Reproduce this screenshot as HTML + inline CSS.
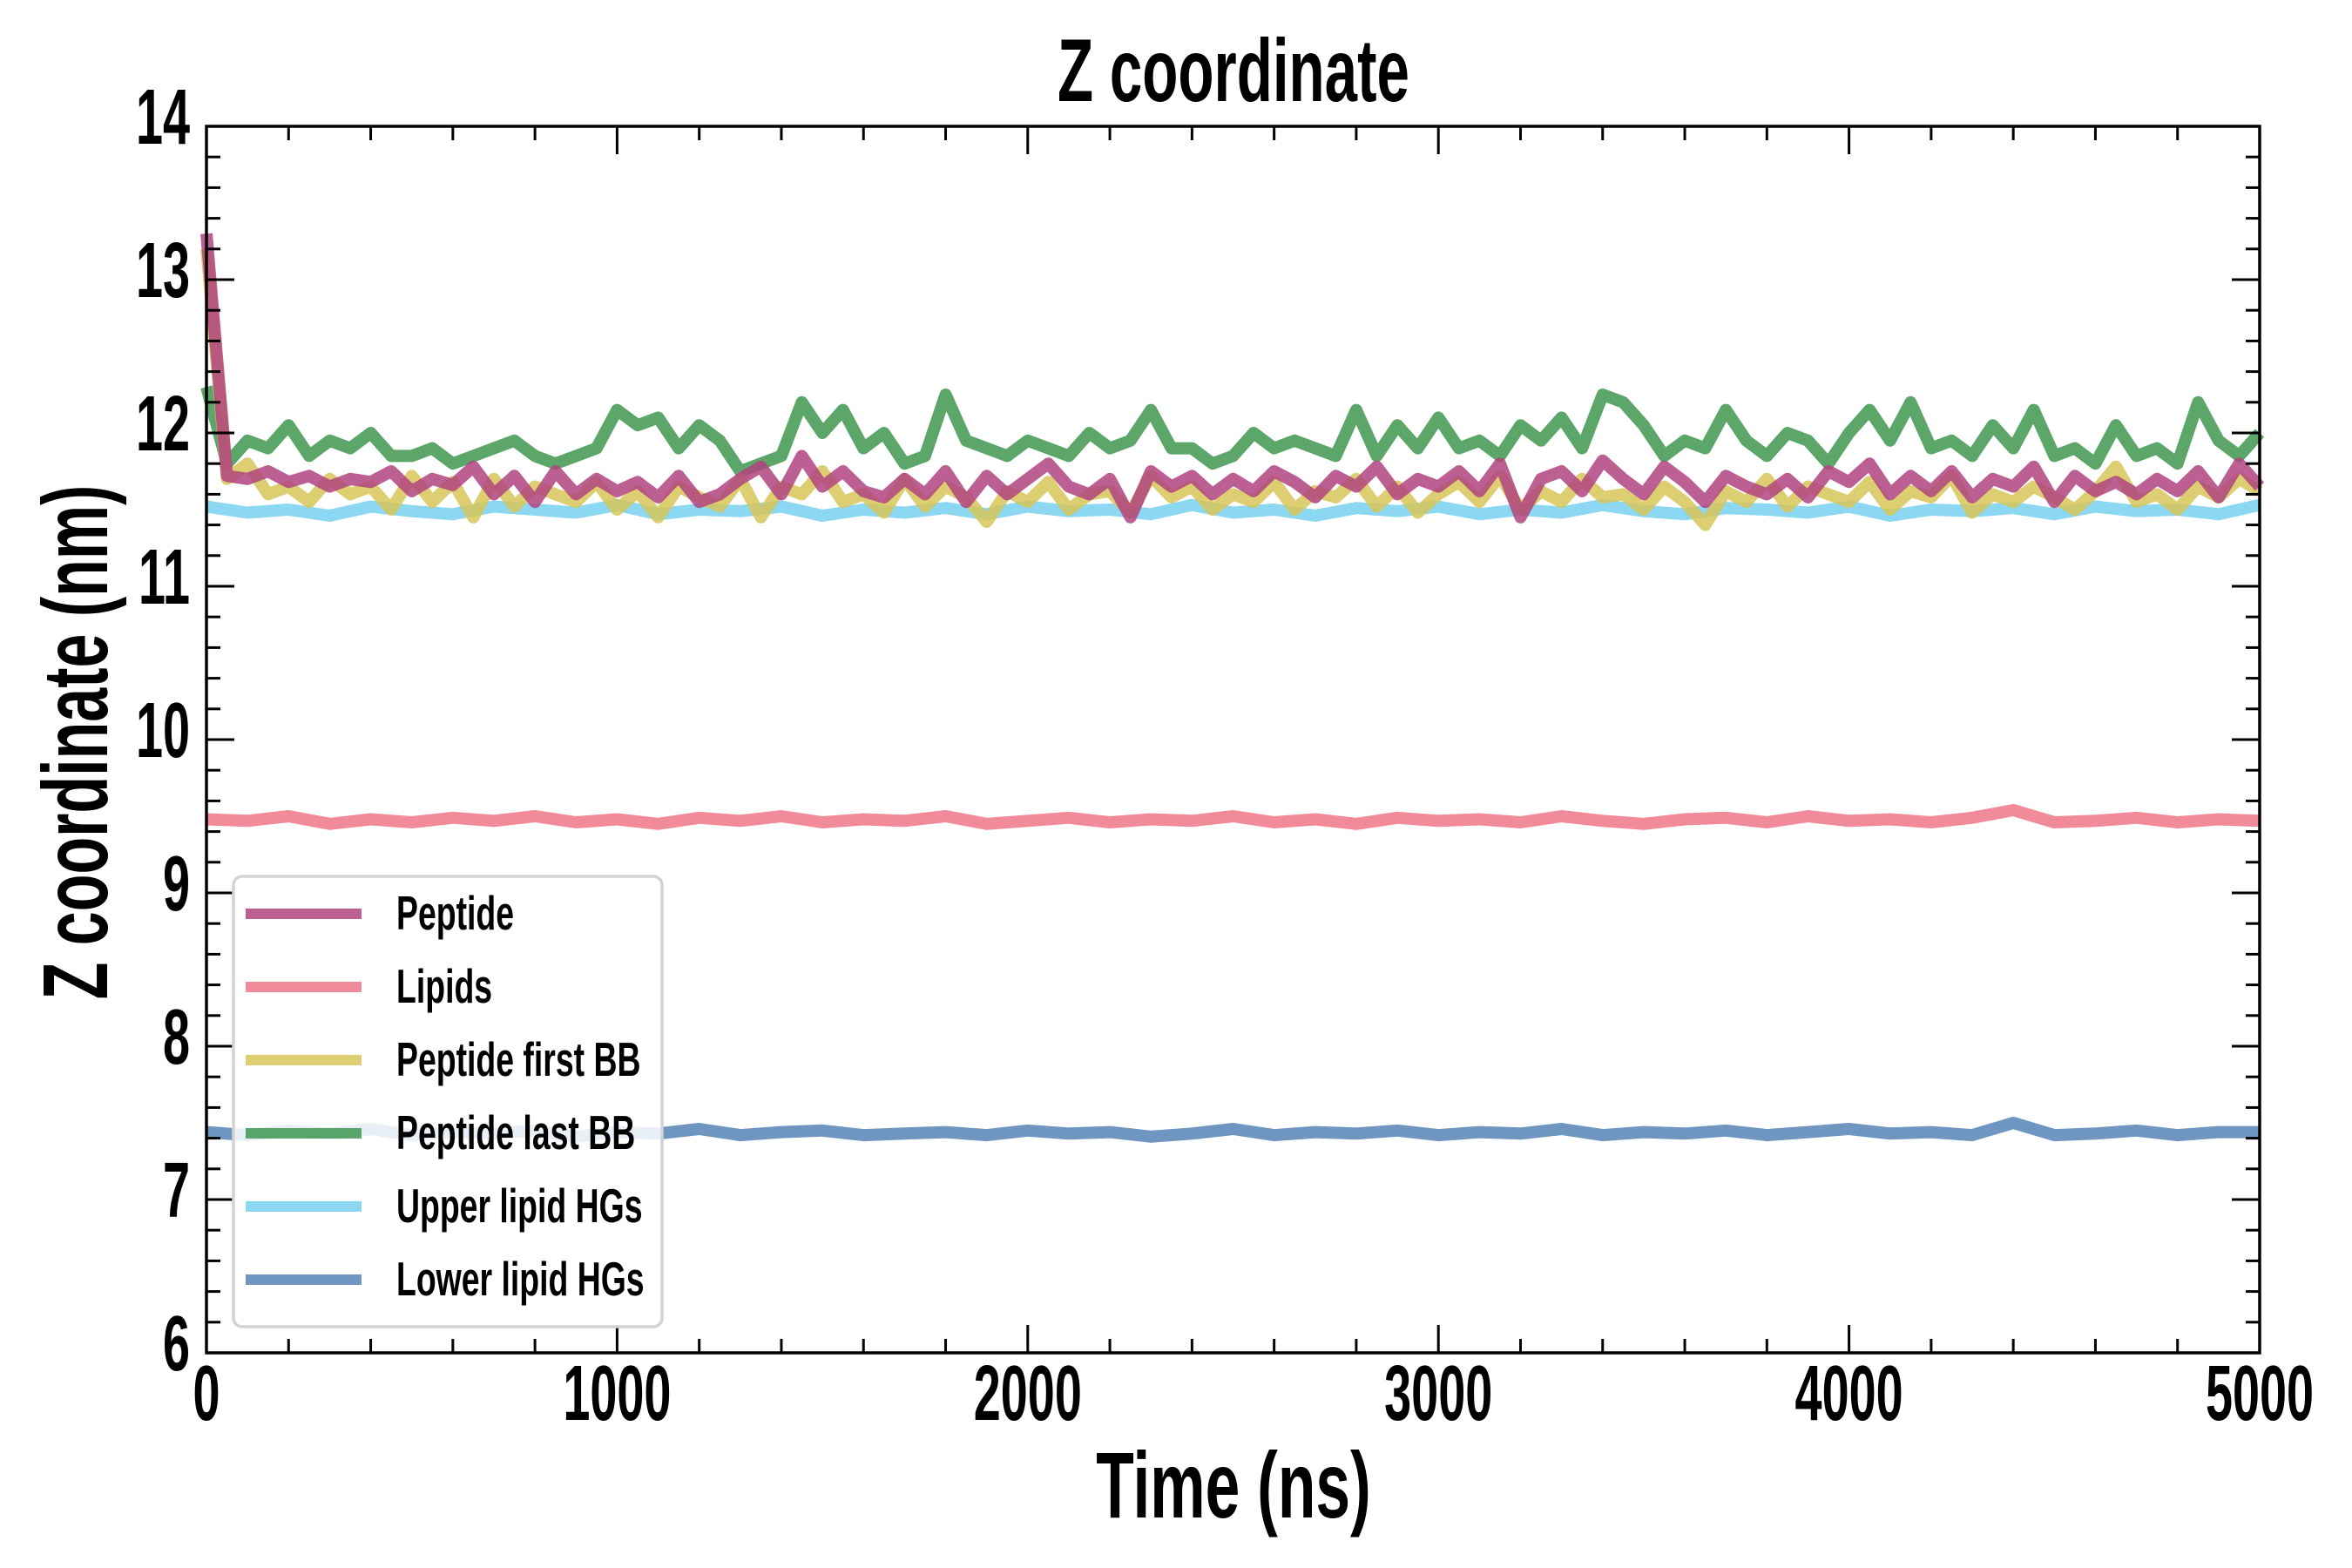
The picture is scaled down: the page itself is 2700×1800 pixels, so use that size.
<!DOCTYPE html>
<html><head><meta charset="utf-8"><style>html,body{margin:0;padding:0;background:#fff}svg{display:block}</style></head>
<body>
<svg id="chart" width="2700" height="1800" viewBox="0 0 2700 1800" xmlns="http://www.w3.org/2000/svg">
<rect width="2700" height="1800" fill="#fff"/>
<g id="series"></g>
<g id="axes"></g>
<g id="legend"></g>
</svg>
<script>
const xTicks = [0,1000,2000,3000,4000,5000];
const yTicks = [6,7,8,9,10,11,12,13,14];
const seriesNames = ["Peptide","Lipids","Peptide first BB","Peptide last BB","Upper lipid HGs","Lower lipid HGs"];
const tMax = 5000;
const peptideLast = [12.3,11.8,11.95,11.9,12.05,11.85,11.95,11.9,12.0,11.85,11.85,11.9,11.8,11.85,11.9,11.95,11.85,11.8,11.85,11.9,12.15,12.05,12.1,11.9,12.05,11.95,11.75,11.8,11.85,12.2,12.0,12.15,11.9,12.0,11.8,11.85,12.25,11.95,11.9,11.85,11.95,11.9,11.85,12.0,11.9,11.95,12.15,11.9,11.9,11.8,11.85,12.0,11.9,11.95,11.9,11.85,12.15,11.85,12.05,11.9,12.1,11.9,11.95,11.85,12.05,11.95,12.1,11.9,12.25,12.2,12.05,11.85,11.95,11.9,12.15,11.95,11.85,12.0,11.95,11.8,12.0,12.15,11.95,12.2,11.9,11.95,11.85,12.05,11.9,12.15,11.85,11.9,11.8,12.05,11.85,11.9,11.8,12.2,11.95,11.85,12.0];
const peptide = [13.3,11.72,11.7,11.75,11.68,11.72,11.65,11.7,11.68,11.75,11.62,11.7,11.66,11.78,11.6,11.72,11.55,11.75,11.6,11.7,11.62,11.68,11.58,11.72,11.55,11.6,11.7,11.78,11.6,11.85,11.65,11.75,11.62,11.58,11.7,11.6,11.75,11.55,11.72,11.6,11.7,11.8,11.65,11.6,11.7,11.45,11.75,11.65,11.72,11.6,11.7,11.62,11.75,11.68,11.58,11.72,11.65,11.78,11.6,11.7,11.65,11.75,11.62,11.8,11.45,11.7,11.75,11.62,11.82,11.7,11.6,11.78,11.68,11.55,11.72,11.65,11.6,11.7,11.58,11.75,11.68,11.8,11.6,11.72,11.62,11.75,11.58,11.7,11.65,11.78,11.55,11.72,11.62,11.68,11.6,11.7,11.62,11.75,11.58,11.8,11.65];
const peptideFirst = [13.2,11.7,11.8,11.6,11.65,11.55,11.7,11.6,11.65,11.5,11.72,11.55,11.68,11.45,11.7,11.52,11.65,11.6,11.55,11.68,11.5,11.62,11.45,11.65,11.58,11.52,11.7,11.45,11.65,11.6,11.75,11.55,11.6,11.48,11.7,11.52,11.65,11.58,11.42,11.62,11.55,11.68,11.5,11.6,11.62,11.48,11.72,11.58,11.65,11.5,11.6,11.55,11.68,11.5,11.62,11.58,11.7,11.52,11.65,11.48,11.6,11.68,11.55,11.72,11.5,11.62,11.55,11.7,11.58,11.6,11.5,11.65,11.55,11.4,11.62,11.55,11.7,11.52,11.65,11.6,11.55,11.68,11.5,11.62,11.58,11.72,11.48,11.6,11.55,11.65,11.58,11.5,11.62,11.78,11.55,11.6,11.5,11.65,11.58,11.7,11.62];
const upperHG = [11.52,11.48,11.5,11.46,11.52,11.49,11.47,11.52,11.5,11.48,11.53,11.47,11.5,11.49,11.52,11.46,11.5,11.48,11.51,11.47,11.52,11.49,11.5,11.47,11.53,11.48,11.5,11.46,11.51,11.49,11.52,11.47,11.5,11.48,11.53,11.49,11.47,11.51,11.5,11.48,11.52,11.46,11.5,11.49,11.51,11.47,11.52,11.49,11.5,11.47,11.53];
const lipids = [9.48,9.47,9.5,9.45,9.48,9.46,9.49,9.47,9.5,9.46,9.48,9.45,9.49,9.47,9.5,9.46,9.48,9.47,9.5,9.45,9.47,9.49,9.46,9.48,9.47,9.5,9.46,9.48,9.45,9.49,9.47,9.48,9.46,9.5,9.47,9.45,9.48,9.49,9.46,9.5,9.47,9.48,9.46,9.49,9.54,9.46,9.47,9.49,9.46,9.48,9.47];
const lowerHG = [7.44,7.42,7.45,7.43,7.46,7.42,7.44,7.43,7.45,7.41,7.44,7.43,7.46,7.42,7.44,7.45,7.42,7.43,7.44,7.42,7.45,7.43,7.44,7.41,7.43,7.46,7.42,7.44,7.43,7.45,7.42,7.44,7.43,7.46,7.42,7.44,7.43,7.45,7.42,7.44,7.46,7.43,7.44,7.42,7.5,7.42,7.43,7.45,7.42,7.44,7.44];

const NS='http://www.w3.org/2000/svg';
const X0=237,X1=2594,Y0=1553,Y1=145;
function xs(t){return X0+(t/tMax)*(X1-X0);}
function ys(v){return Y0-(v-6)/8*(Y0-Y1);}
function mk(tag,parent,attrs){const e=document.createElementNS(NS,tag);for(const k in attrs)e.setAttribute(k,attrs[k]);parent.appendChild(e);return e;}
const gS=document.getElementById('series'),gA=document.getElementById('axes'),gL=document.getElementById('legend');
const colors=["#b0437f","#ee7788","#d6c658","#3f9650","#78d0ee","#5584b6"];
function pathFor(arr){const step=tMax/(arr.length-1);return arr.map((v,i)=>(i?'L':'M')+xs(i*step).toFixed(1)+','+ys(v).toFixed(1)).join('');}
const drawList=[[lipids,1,'lipids-line'],[lowerHG,5,'lower-lipid-hgs-line'],[upperHG,4,'upper-lipid-hgs-line'],[peptideLast,3,'peptide-last-bb-line'],[peptideFirst,2,'peptide-first-bb-line'],[peptide,0,'peptide-line']];
drawList.forEach(d=>{
  const p=mk('path',gS,{d:pathFor(d[0]),fill:'none',stroke:colors[d[1]],'stroke-width':14,'stroke-linejoin':'round','stroke-opacity':0.85});
  
  
});
const fr=mk('rect',gA,{x:X0,y:Y1,width:X1-X0,height:Y0-Y1,fill:'none',stroke:'#000','stroke-width':3.5});


function txt(parent,s,x,y,size,anchor,sx,rot){
  const t=mk('text',parent,{'font-family':'Liberation Sans, sans-serif','font-weight':'bold','font-size':size,'text-anchor':anchor,transform:`translate(${x},${y})${rot?' rotate('+rot+')':''} scale(${sx},1)`});
  t.textContent=s;return t;
}
for(let t=0;t<=tMax;t+=200){const x=xs(t);const maj=t%1000===0;const L=maj?32:16;
  mk('line',gA,{x1:x,x2:x,y1:Y0,y2:Y0-L,stroke:'#000','stroke-width':3});
  mk('line',gA,{x1:x,x2:x,y1:Y1,y2:Y1+L,stroke:'#000','stroke-width':3});}
xTicks.forEach(t=>{const e=txt(gA,String(t),xs(t),1630,90,'middle',0.62);
  
  });
for(let k=0;k<=40;k++){const v=6+k*0.2;const y=ys(v);const maj=k%5===0;const L=maj?32:16;
  mk('line',gA,{x1:X0,x2:X0+L,y1:y,y2:y,stroke:'#000','stroke-width':3});
  mk('line',gA,{x1:X1,x2:X1-L,y1:y,y2:y,stroke:'#000','stroke-width':3});}
yTicks.forEach(v=>{const e=txt(gA,String(v),218,ys(v)+20,90,'end',0.62);
  
  });
let e;
e=txt(gA,'Z coordinate',1416,116,102,'middle',0.66);


e=txt(gA,'Time (ns)',1416,1742,108,'middle',0.66);


e=txt(gA,'Z coordinate (nm)',123,852,106,'middle',0.66,-90);


const lb=mk('rect',gL,{x:268,y:1006,width:492,height:517,rx:10,fill:'#fff','fill-opacity':0.85,stroke:'#d3d3d3','stroke-width':3.5});


seriesNames.forEach((n,i)=>{const y=1049+i*84;
  const g=mk('g',gL,{});
  
  
  mk('line',g,{x1:282,x2:415,y1:y,y2:y,stroke:colors[i],'stroke-width':12,'stroke-opacity':0.85});
  txt(g,n,455,y+18,55,'start',0.68);
});
</script>
</body></html>
